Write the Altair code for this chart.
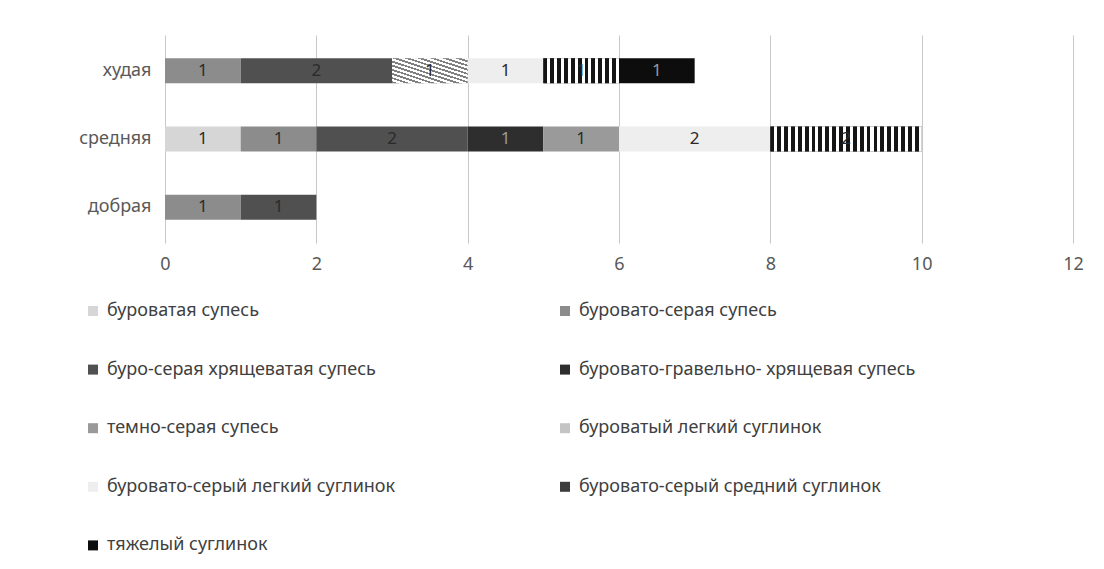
import altair as alt
import pandas as pd

categories = ["худая", "средняя", "добрая"]
soils = [
    "буроватая супесь",
    "буровато-серая супесь",
    "буро-серая хрящеватая супесь",
    "буровато-гравельно- хрящевая супесь",
    "темно-серая супесь",
    "буроватый легкий суглинок",
    "буровато-серый легкий суглинок",
    "буровато-серый средний суглинок",
    "тяжелый суглинок",
]
vals_hudaya = [0, 1, 2, 0, 0, 1, 1, 1, 1]
vals_srednyaya = [1, 1, 2, 1, 1, 0, 2, 2, 0]
vals_dobraya = [0, 1, 1, 0, 0, 0, 0, 0, 0]
soil_colors = ["#d6d6d6", "#8c8c8c", "#505050", "#2e2e2e", "#9a9a9a",
               "#c4c4c4", "#eeeeee", "#3c3c3c", "#0d0d0d"]

rows = []
for cat, vals in zip(categories, [vals_hudaya, vals_srednyaya, vals_dobraya]):
    for i, (s, v) in enumerate(zip(soils, vals)):
        if v > 0:
            rows.append({"cat": cat, "soil": s, "idx": i, "value": v})
df = pd.DataFrame(rows)

FONT = "Noto Sans"
FS = 18


def stripes(n, dark, light, frac, x1, y1, x2, y2):
    stops = []
    for k in range(n):
        a = k / n
        b = (k + frac) / n
        c = (k + 1) / n
        stops += [alt.GradientStop(offset=a, color=dark), alt.GradientStop(offset=b, color=dark),
                  alt.GradientStop(offset=b, color=light), alt.GradientStop(offset=c, color=light)]
    return alt.LinearGradient(gradient="linear", x1=x1, y1=y1, x2=x2, y2=y2, stops=stops)


base = alt.Chart(df).transform_stack(
    stack="value", groupby=["cat"], as_=["x0", "x1"], sort=[alt.SortField("idx")]
).transform_calculate(mid="(datum.x0 + datum.x1) / 2")

yenc = alt.Y("cat:N", sort=categories, title=None,
             scale=alt.Scale(paddingInner=0.635, paddingOuter=0.34),
             axis=alt.Axis(ticks=False, domain=False, labelFontSize=FS,
                           labelColor="#595959", labelFont=FONT, labelPadding=14))
xenc = alt.X("x0:Q", title=None,
             scale=alt.Scale(domain=[0, 12]),
             axis=alt.Axis(values=[0, 2, 4, 6, 8, 10, 12], format="d", ticks=False, domain=False,
                           grid=True, gridColor="#c8c8c8", gridWidth=1, labelFlush=False,
                           labelFontSize=FS, labelColor="#595959", labelFont=FONT,
                           labelPadding=12))

bars = base.mark_bar(stroke=None).encode(
    x=xenc,
    x2="x1:Q",
    y=yenc,
    color=alt.Color("soil:N", sort=soils,
                    scale=alt.Scale(domain=soils, range=soil_colors),
                    legend=alt.Legend(title=None, orient="none", legendX=-81, legendY=267,
                                      direction="horizontal",
                                      columns=2, columnPadding=160, rowPadding=40.6,
                                      symbolType="square", symbolSize=100,
                                      symbolStrokeWidth=0, labelOffset=5,
                                      labelFontSize=FS, labelFont=FONT,
                                      labelColor="#404040", labelLimit=500)),
)

layers = [bars]
# vertical stripes for "буровато-серый средний суглинок"
for v in sorted(df.loc[df["idx"] == 7, "value"].unique()):
    layers.append(
        base.transform_filter(f"datum.idx == 7 && datum.value == {int(v)}")
        .mark_bar(fill=stripes(11 * int(v), "#151515", "#ffffff", 0.55, 0, 0, 1, 0), stroke=None)
        .encode(x="x0:Q", x2="x1:Q", y=alt.Y("cat:N", sort=categories))
    )
# diagonal hatch for "буроватый легкий суглинок"
for v in sorted(df.loc[df["idx"] == 5, "value"].unique()):
    layers.append(
        base.transform_filter(f"datum.idx == 5 && datum.value == {int(v)}")
        .mark_bar(fill=stripes(12 * int(v), "#808080", "#ffffff", 0.45, 0, 1, 1, 0), stroke=None)
        .encode(x="x0:Q", x2="x1:Q", y=alt.Y("cat:N", sort=categories))
    )

labels = base.mark_text(fontSize=17, font=FONT).encode(
    x="mid:Q",
    y=alt.Y("cat:N", sort=categories),
    text="value:Q",
    color=alt.condition("datum.idx == 8 || datum.idx == 3",
                        alt.value("#9a9a9a"), alt.value("#2a2a2a")),
)
layers.append(labels)

chart = alt.layer(*layers).properties(
    width=908, height=208,
    padding={"left": 157, "top": 27, "right": 20, "bottom": 326},
    autosize=alt.AutoSizeParams(type="none"),
    background="white",
).configure_view(stroke=None)

chart.save("out.html", embed_options={"renderer": "svg", "actions": False})
